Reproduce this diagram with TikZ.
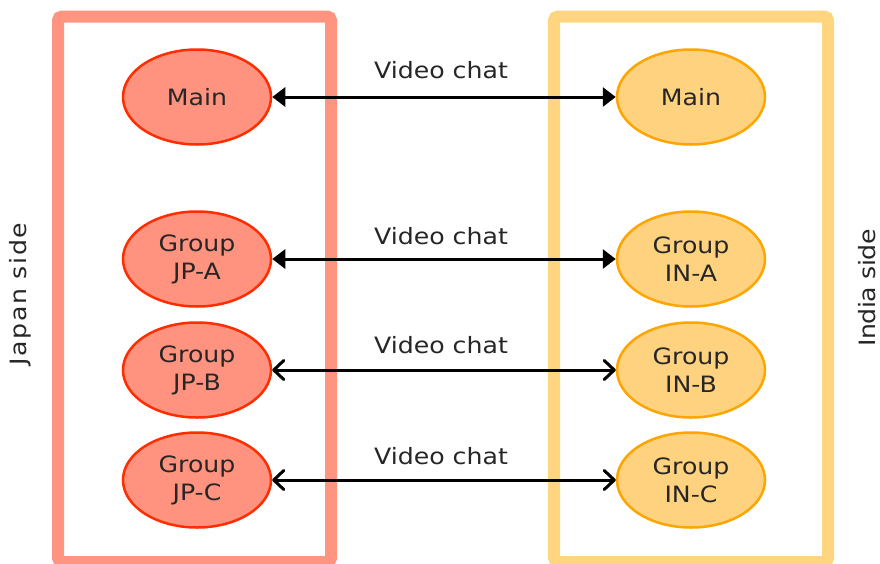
\documentclass[tikz,border=0pt]{standalone}
\usepackage{fontspec}
\setmainfont{DejaVu Sans}[FakeStretch=1.12]
\usetikzlibrary{shapes.geometric,arrows.meta}
\definecolor{jpfill}{HTML}{FF937F}
\definecolor{jpline}{HTML}{FF2D00}
\definecolor{jpframe}{HTML}{FF9580}
\definecolor{infill}{HTML}{FFD27F}
\definecolor{inline}{HTML}{FFA500}
\definecolor{inframe}{HTML}{FFD580}
\tikzset{
  x=1pt, y=-1pt,
  sidebox/.style={line width=12pt, rounded corners=4pt},
  grp/.style={ellipse, draw, line width=2.5pt, minimum width=148pt, minimum height=95pt,
    inner sep=0pt, align=center, font=\fontsize{22.5}{28}\selectfont, text=black!85},
  jpgrp/.style={grp, fill=jpfill, draw=jpline},
  ingrp/.style={grp, fill=infill, draw=inline},
  chat/.style={font=\fontsize{22.5}{28}\selectfont, text=black!85, anchor=base},
  solidlink/.style={line width=3pt, {Triangle[length=13pt,width=19pt]}-{Triangle[length=13pt,width=19pt]}},
  openlink/.style={line width=3pt, line cap=round,
    {Straight Barb[length=10pt,width=19pt,line cap=round,line join=round]}-{Straight Barb[length=10pt,width=19pt,line cap=round,line join=round]}},
  sidelabel/.style={font=\fontsize{22.5}{28}\selectfont, text=black!85, rotate=90},
}
\begin{document}
\begin{tikzpicture}
\useasboundingbox (0,0) rectangle (880,563);
\fill[white] (0,0) rectangle (880,563);
% side frames
\draw[sidebox, draw=jpframe] (58,16.5) rectangle (331,562);
\draw[sidebox, draw=inframe] (554,16.5) rectangle (828,562);
% Japan side groups
\node[jpgrp] (jmain) at (197,97) {Main};
\node[jpgrp] (ja) at (197,259) {Group\\JP-A};
\node[jpgrp] (jb) at (197,370) {Group\\JP-B};
\node[jpgrp] (jc) at (197,480) {Group\\JP-C};
% India side groups
\node[ingrp] (imain) at (691,97) {Main};
\node[ingrp] (ia) at (691,259) {Group\\IN-A};
\node[ingrp] (ib) at (691,370) {Group\\IN-B};
\node[ingrp] (ic) at (691,480) {Group\\IN-C};
% video links
\draw[solidlink] (jmain) -- (imain);
\draw[solidlink] (ja) -- (ia);
\draw[openlink] (jb) -- (ib);
\draw[openlink] (jc) -- (ic);
\node[chat] (l1) at (441,78) {Video chat};
\node[chat] (l2) at (441,244) {Video chat};
\node[chat] (l3) at (441,353) {Video chat};
\node[chat] (l4) at (441,464) {Video chat};
% side captions
\node[sidelabel] (jside) at (20,294) {\addfontfeature{LetterSpace=7}Japan side};
\node[sidelabel] (iside) at (867,288) {\addfontfeature{LetterSpace=-2.5}India side};
\end{tikzpicture}
\end{document}
